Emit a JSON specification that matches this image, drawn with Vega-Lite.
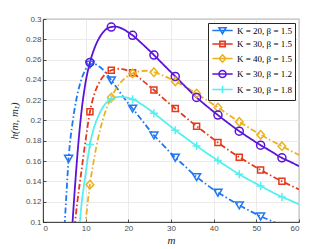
{
  "$schema": "https://vega.github.io/schema/vega-lite/v6.json",
  "width": 256,
  "height": 203,
  "autosize": {"type": "none"},
  "padding": {"left": 43, "top": 19, "right": 32, "bottom": 27},
  "background": "white",
  "config": {
    "view": {"stroke": "#262626", "strokeWidth": 0.8},
    "axis": {
      "labelFont": "Liberation Sans", "labelFontSize": 8, "labelColor": "#4d4d4d",
      "domainColor": "#262626", "domainWidth": 0.8, "tickColor": "#262626", "tickSize": -3, "tickWidth": 0.8,
      "gridColor": "#e6e6e6", "gridWidth": 0.8,
      "titleFont": "Liberation Serif", "titleFontStyle": "italic", "titleFontWeight": "normal", "titleFontSize": 11, "titleColor": "#262626"
    }
  },
  "datasets": {
    "curves": [
      {"s": "K = 20, β = 1.5", "m": 5.05, "h": 0.096},
      {"s": "K = 20, β = 1.5", "m": 5.5, "h": 0.128},
      {"s": "K = 20, β = 1.5", "m": 6, "h": 0.1625},
      {"s": "K = 20, β = 1.5", "m": 7, "h": 0.2},
      {"s": "K = 20, β = 1.5", "m": 8, "h": 0.2245},
      {"s": "K = 20, β = 1.5", "m": 9, "h": 0.2405},
      {"s": "K = 20, β = 1.5", "m": 10, "h": 0.2505},
      {"s": "K = 20, β = 1.5", "m": 11, "h": 0.2553},
      {"s": "K = 20, β = 1.5", "m": 12, "h": 0.2557},
      {"s": "K = 20, β = 1.5", "m": 13, "h": 0.2535},
      {"s": "K = 20, β = 1.5", "m": 14, "h": 0.2503},
      {"s": "K = 20, β = 1.5", "m": 15, "h": 0.2455},
      {"s": "K = 20, β = 1.5", "m": 16, "h": 0.2398},
      {"s": "K = 20, β = 1.5", "m": 17, "h": 0.234},
      {"s": "K = 20, β = 1.5", "m": 18, "h": 0.228},
      {"s": "K = 20, β = 1.5", "m": 19, "h": 0.2222},
      {"s": "K = 20, β = 1.5", "m": 20, "h": 0.2168},
      {"s": "K = 20, β = 1.5", "m": 21, "h": 0.2118},
      {"s": "K = 20, β = 1.5", "m": 23, "h": 0.2012},
      {"s": "K = 20, β = 1.5", "m": 26, "h": 0.1855},
      {"s": "K = 20, β = 1.5", "m": 28, "h": 0.1765},
      {"s": "K = 20, β = 1.5", "m": 31, "h": 0.1635},
      {"s": "K = 20, β = 1.5", "m": 33, "h": 0.156},
      {"s": "K = 20, β = 1.5", "m": 36, "h": 0.1444},
      {"s": "K = 20, β = 1.5", "m": 38, "h": 0.138},
      {"s": "K = 20, β = 1.5", "m": 41, "h": 0.129},
      {"s": "K = 20, β = 1.5", "m": 43, "h": 0.124},
      {"s": "K = 20, β = 1.5", "m": 46, "h": 0.1165},
      {"s": "K = 20, β = 1.5", "m": 48, "h": 0.112},
      {"s": "K = 20, β = 1.5", "m": 51, "h": 0.1056},
      {"s": "K = 20, β = 1.5", "m": 53, "h": 0.102},
      {"s": "K = 20, β = 1.5", "m": 55, "h": 0.0984},

      {"s": "K = 30, β = 1.5", "m": 7.4, "h": 0.095},
      {"s": "K = 30, β = 1.5", "m": 8, "h": 0.118},
      {"s": "K = 30, β = 1.5", "m": 9, "h": 0.15},
      {"s": "K = 30, β = 1.5", "m": 10, "h": 0.181},
      {"s": "K = 30, β = 1.5", "m": 11, "h": 0.2086},
      {"s": "K = 30, β = 1.5", "m": 12, "h": 0.2255},
      {"s": "K = 30, β = 1.5", "m": 13, "h": 0.236},
      {"s": "K = 30, β = 1.5", "m": 14, "h": 0.2428},
      {"s": "K = 30, β = 1.5", "m": 15, "h": 0.247},
      {"s": "K = 30, β = 1.5", "m": 16, "h": 0.2495},
      {"s": "K = 30, β = 1.5", "m": 17, "h": 0.2507},
      {"s": "K = 30, β = 1.5", "m": 18, "h": 0.251},
      {"s": "K = 30, β = 1.5", "m": 19, "h": 0.2503},
      {"s": "K = 30, β = 1.5", "m": 20, "h": 0.249},
      {"s": "K = 30, β = 1.5", "m": 21, "h": 0.247},
      {"s": "K = 30, β = 1.5", "m": 23, "h": 0.2405},
      {"s": "K = 30, β = 1.5", "m": 26, "h": 0.23},
      {"s": "K = 30, β = 1.5", "m": 28, "h": 0.2225},
      {"s": "K = 30, β = 1.5", "m": 31, "h": 0.2118},
      {"s": "K = 30, β = 1.5", "m": 33, "h": 0.2047},
      {"s": "K = 30, β = 1.5", "m": 36, "h": 0.1944},
      {"s": "K = 30, β = 1.5", "m": 38, "h": 0.188},
      {"s": "K = 30, β = 1.5", "m": 41, "h": 0.1783},
      {"s": "K = 30, β = 1.5", "m": 43, "h": 0.1723},
      {"s": "K = 30, β = 1.5", "m": 46, "h": 0.1638},
      {"s": "K = 30, β = 1.5", "m": 48, "h": 0.1587},
      {"s": "K = 30, β = 1.5", "m": 51, "h": 0.1513},
      {"s": "K = 30, β = 1.5", "m": 53, "h": 0.1467},
      {"s": "K = 30, β = 1.5", "m": 56, "h": 0.1401},
      {"s": "K = 30, β = 1.5", "m": 58, "h": 0.136},
      {"s": "K = 30, β = 1.5", "m": 60, "h": 0.1322},

      {"s": "K = 40, β = 1.5", "m": 9.9, "h": 0.095},
      {"s": "K = 40, β = 1.5", "m": 10.5, "h": 0.12},
      {"s": "K = 40, β = 1.5", "m": 11, "h": 0.1368},
      {"s": "K = 40, β = 1.5", "m": 12, "h": 0.163},
      {"s": "K = 40, β = 1.5", "m": 13, "h": 0.184},
      {"s": "K = 40, β = 1.5", "m": 14, "h": 0.2005},
      {"s": "K = 40, β = 1.5", "m": 15, "h": 0.213},
      {"s": "K = 40, β = 1.5", "m": 16, "h": 0.2227},
      {"s": "K = 40, β = 1.5", "m": 17, "h": 0.2305},
      {"s": "K = 40, β = 1.5", "m": 18, "h": 0.2365},
      {"s": "K = 40, β = 1.5", "m": 19, "h": 0.241},
      {"s": "K = 40, β = 1.5", "m": 20, "h": 0.2443},
      {"s": "K = 40, β = 1.5", "m": 21, "h": 0.2464},
      {"s": "K = 40, β = 1.5", "m": 22, "h": 0.2479},
      {"s": "K = 40, β = 1.5", "m": 23, "h": 0.2487},
      {"s": "K = 40, β = 1.5", "m": 24, "h": 0.249},
      {"s": "K = 40, β = 1.5", "m": 25, "h": 0.2486},
      {"s": "K = 40, β = 1.5", "m": 26, "h": 0.2476},
      {"s": "K = 40, β = 1.5", "m": 28, "h": 0.2445},
      {"s": "K = 40, β = 1.5", "m": 31, "h": 0.2385},
      {"s": "K = 40, β = 1.5", "m": 33, "h": 0.234},
      {"s": "K = 40, β = 1.5", "m": 36, "h": 0.2266},
      {"s": "K = 40, β = 1.5", "m": 38, "h": 0.221},
      {"s": "K = 40, β = 1.5", "m": 41, "h": 0.2128},
      {"s": "K = 40, β = 1.5", "m": 43, "h": 0.207},
      {"s": "K = 40, β = 1.5", "m": 46, "h": 0.1987},
      {"s": "K = 40, β = 1.5", "m": 48, "h": 0.1935},
      {"s": "K = 40, β = 1.5", "m": 51, "h": 0.1859},
      {"s": "K = 40, β = 1.5", "m": 53, "h": 0.1813},
      {"s": "K = 40, β = 1.5", "m": 56, "h": 0.1747},
      {"s": "K = 40, β = 1.5", "m": 58, "h": 0.1703},
      {"s": "K = 40, β = 1.5", "m": 60, "h": 0.1661},

      {"s": "K = 30, β = 1.2", "m": 6.85, "h": 0.095},
      {"s": "K = 30, β = 1.2", "m": 7.5, "h": 0.135},
      {"s": "K = 30, β = 1.2", "m": 8, "h": 0.163},
      {"s": "K = 30, β = 1.2", "m": 9, "h": 0.208},
      {"s": "K = 30, β = 1.2", "m": 10, "h": 0.238},
      {"s": "K = 30, β = 1.2", "m": 11, "h": 0.2572},
      {"s": "K = 30, β = 1.2", "m": 12, "h": 0.2705},
      {"s": "K = 30, β = 1.2", "m": 13, "h": 0.28},
      {"s": "K = 30, β = 1.2", "m": 14, "h": 0.2865},
      {"s": "K = 30, β = 1.2", "m": 15, "h": 0.2905},
      {"s": "K = 30, β = 1.2", "m": 16, "h": 0.2921},
      {"s": "K = 30, β = 1.2", "m": 17, "h": 0.2925},
      {"s": "K = 30, β = 1.2", "m": 18, "h": 0.2915},
      {"s": "K = 30, β = 1.2", "m": 19, "h": 0.2895},
      {"s": "K = 30, β = 1.2", "m": 20, "h": 0.2868},
      {"s": "K = 30, β = 1.2", "m": 21, "h": 0.2839},
      {"s": "K = 30, β = 1.2", "m": 23, "h": 0.2765},
      {"s": "K = 30, β = 1.2", "m": 26, "h": 0.2645},
      {"s": "K = 30, β = 1.2", "m": 28, "h": 0.256},
      {"s": "K = 30, β = 1.2", "m": 31, "h": 0.2434},
      {"s": "K = 30, β = 1.2", "m": 33, "h": 0.235},
      {"s": "K = 30, β = 1.2", "m": 36, "h": 0.2227},
      {"s": "K = 30, β = 1.2", "m": 38, "h": 0.2155},
      {"s": "K = 30, β = 1.2", "m": 41, "h": 0.2053},
      {"s": "K = 30, β = 1.2", "m": 43, "h": 0.1988},
      {"s": "K = 30, β = 1.2", "m": 46, "h": 0.1895},
      {"s": "K = 30, β = 1.2", "m": 48, "h": 0.1838},
      {"s": "K = 30, β = 1.2", "m": 51, "h": 0.1757},
      {"s": "K = 30, β = 1.2", "m": 53, "h": 0.1708},
      {"s": "K = 30, β = 1.2", "m": 56, "h": 0.1632},
      {"s": "K = 30, β = 1.2", "m": 58, "h": 0.1592},
      {"s": "K = 30, β = 1.2", "m": 60, "h": 0.155},

      {"s": "K = 30, β = 1.8", "m": 8.55, "h": 0.095},
      {"s": "K = 30, β = 1.8", "m": 9, "h": 0.116},
      {"s": "K = 30, β = 1.8", "m": 9.5, "h": 0.133},
      {"s": "K = 30, β = 1.8", "m": 10, "h": 0.148},
      {"s": "K = 30, β = 1.8", "m": 11, "h": 0.1763},
      {"s": "K = 30, β = 1.8", "m": 12, "h": 0.1935},
      {"s": "K = 30, β = 1.8", "m": 13, "h": 0.2045},
      {"s": "K = 30, β = 1.8", "m": 14, "h": 0.2128},
      {"s": "K = 30, β = 1.8", "m": 15, "h": 0.2182},
      {"s": "K = 30, β = 1.8", "m": 16, "h": 0.2212},
      {"s": "K = 30, β = 1.8", "m": 17, "h": 0.2228},
      {"s": "K = 30, β = 1.8", "m": 18, "h": 0.2233},
      {"s": "K = 30, β = 1.8", "m": 19, "h": 0.223},
      {"s": "K = 30, β = 1.8", "m": 20, "h": 0.2222},
      {"s": "K = 30, β = 1.8", "m": 21, "h": 0.221},
      {"s": "K = 30, β = 1.8", "m": 23, "h": 0.2163},
      {"s": "K = 30, β = 1.8", "m": 26, "h": 0.2072},
      {"s": "K = 30, β = 1.8", "m": 28, "h": 0.2005},
      {"s": "K = 30, β = 1.8", "m": 31, "h": 0.1905},
      {"s": "K = 30, β = 1.8", "m": 33, "h": 0.1842},
      {"s": "K = 30, β = 1.8", "m": 36, "h": 0.175},
      {"s": "K = 30, β = 1.8", "m": 38, "h": 0.169},
      {"s": "K = 30, β = 1.8", "m": 41, "h": 0.1605},
      {"s": "K = 30, β = 1.8", "m": 43, "h": 0.155},
      {"s": "K = 30, β = 1.8", "m": 46, "h": 0.147},
      {"s": "K = 30, β = 1.8", "m": 48, "h": 0.1422},
      {"s": "K = 30, β = 1.8", "m": 51, "h": 0.1355},
      {"s": "K = 30, β = 1.8", "m": 53, "h": 0.131},
      {"s": "K = 30, β = 1.8", "m": 56, "h": 0.1247},
      {"s": "K = 30, β = 1.8", "m": 58, "h": 0.1212},
      {"s": "K = 30, β = 1.8", "m": 60, "h": 0.1174}
    ],
    "markers": [
      {"s": "K = 20, β = 1.5", "m": 6, "h": 0.1625},
      {"s": "K = 20, β = 1.5", "m": 11, "h": 0.2553},
      {"s": "K = 20, β = 1.5", "m": 16, "h": 0.2398},
      {"s": "K = 20, β = 1.5", "m": 21, "h": 0.2118},
      {"s": "K = 20, β = 1.5", "m": 26, "h": 0.1855},
      {"s": "K = 20, β = 1.5", "m": 31, "h": 0.1635},
      {"s": "K = 20, β = 1.5", "m": 36, "h": 0.1444},
      {"s": "K = 20, β = 1.5", "m": 41, "h": 0.129},
      {"s": "K = 20, β = 1.5", "m": 46, "h": 0.1165},
      {"s": "K = 20, β = 1.5", "m": 51, "h": 0.1056},
      {"s": "K = 30, β = 1.5", "m": 11, "h": 0.2086},
      {"s": "K = 30, β = 1.5", "m": 16, "h": 0.2495},
      {"s": "K = 30, β = 1.5", "m": 21, "h": 0.247},
      {"s": "K = 30, β = 1.5", "m": 26, "h": 0.23},
      {"s": "K = 30, β = 1.5", "m": 31, "h": 0.2118},
      {"s": "K = 30, β = 1.5", "m": 36, "h": 0.1944},
      {"s": "K = 30, β = 1.5", "m": 41, "h": 0.1783},
      {"s": "K = 30, β = 1.5", "m": 46, "h": 0.1638},
      {"s": "K = 30, β = 1.5", "m": 51, "h": 0.1513},
      {"s": "K = 30, β = 1.5", "m": 56, "h": 0.1401},
      {"s": "K = 40, β = 1.5", "m": 11, "h": 0.1368},
      {"s": "K = 40, β = 1.5", "m": 16, "h": 0.2227},
      {"s": "K = 40, β = 1.5", "m": 21, "h": 0.2464},
      {"s": "K = 40, β = 1.5", "m": 26, "h": 0.2476},
      {"s": "K = 40, β = 1.5", "m": 31, "h": 0.2385},
      {"s": "K = 40, β = 1.5", "m": 36, "h": 0.2266},
      {"s": "K = 40, β = 1.5", "m": 41, "h": 0.2128},
      {"s": "K = 40, β = 1.5", "m": 46, "h": 0.1987},
      {"s": "K = 40, β = 1.5", "m": 51, "h": 0.1859},
      {"s": "K = 40, β = 1.5", "m": 56, "h": 0.1747},
      {"s": "K = 30, β = 1.2", "m": 11, "h": 0.2572},
      {"s": "K = 30, β = 1.2", "m": 16, "h": 0.2921},
      {"s": "K = 30, β = 1.2", "m": 21, "h": 0.2839},
      {"s": "K = 30, β = 1.2", "m": 26, "h": 0.2645},
      {"s": "K = 30, β = 1.2", "m": 31, "h": 0.2434},
      {"s": "K = 30, β = 1.2", "m": 36, "h": 0.2227},
      {"s": "K = 30, β = 1.2", "m": 41, "h": 0.2053},
      {"s": "K = 30, β = 1.2", "m": 46, "h": 0.1895},
      {"s": "K = 30, β = 1.2", "m": 51, "h": 0.1757},
      {"s": "K = 30, β = 1.2", "m": 56, "h": 0.1632},
      {"s": "K = 30, β = 1.8", "m": 11, "h": 0.1763},
      {"s": "K = 30, β = 1.8", "m": 16, "h": 0.2212},
      {"s": "K = 30, β = 1.8", "m": 21, "h": 0.221},
      {"s": "K = 30, β = 1.8", "m": 26, "h": 0.2072},
      {"s": "K = 30, β = 1.8", "m": 31, "h": 0.1905},
      {"s": "K = 30, β = 1.8", "m": 36, "h": 0.175},
      {"s": "K = 30, β = 1.8", "m": 41, "h": 0.1605},
      {"s": "K = 30, β = 1.8", "m": 46, "h": 0.147},
      {"s": "K = 30, β = 1.8", "m": 51, "h": 0.1355},
      {"s": "K = 30, β = 1.8", "m": 56, "h": 0.1247}
    ]
  },
  "encoding": {
    "x": {"field": "m", "type": "quantitative",
      "scale": {"domain": [0, 60], "nice": false, "zero": false},
      "axis": {"title": "m", "values": [0, 10, 20, 30, 40, 50, 60], "labelPadding": 5, "titlePadding": 2, "grid": true}},
    "y": {"field": "h", "type": "quantitative",
      "scale": {"domain": [0.1, 0.3], "nice": false, "zero": false},
      "axis": {"title": "h(m, mₜ)", "values": [0.1, 0.12, 0.14, 0.16, 0.18, 0.2, 0.22, 0.24, 0.26, 0.28, 0.3], "format": ".2~f", "labelPadding": 5, "titlePadding": 6, "grid": true}},
    "color": {"field": "s", "type": "nominal",
      "scale": {"domain": ["K = 20, β = 1.5", "K = 30, β = 1.5", "K = 40, β = 1.5", "K = 30, β = 1.2", "K = 30, β = 1.8"],
                "range": ["#1f78f2", "#e5391c", "#edb120", "#5a14d9", "#55eff0"]},
      "legend": {
        "title": null, "orient": "top-right", "offset": 4,
        "padding": 3, "strokeColor": "#262626", "fillColor": "white", "cornerRadius": 0,
        "labelFont": "Liberation Serif", "labelFontSize": 9, "labelColor": "#000000",
        "symbolSize": 49, "symbolStrokeWidth": 1.6, "symbolFillColor": "transparent", "symbolType": "M-2.9,0H2.9M0,-1V1",
        "symbolOffset": 7, "labelOffset": 10, "rowPadding": 0.5,
        "encode": {"symbols": {"update": {"shape": {"signal": "datum.value === 'K = 20, β = 1.5' ? 'M-2.9,0H2.9M-1,-0.8L1,-0.8L0,0.9Z' : datum.value === 'K = 30, β = 1.5' ? 'M-2.9,0H2.9M-0.75,-0.75H0.75V0.75H-0.75Z' : datum.value === 'K = 40, β = 1.5' ? 'M-2.9,0H2.9M0,-1.05L0.95,0L0,1.05L-0.95,0Z' : datum.value === 'K = 30, β = 1.2' ? 'M-2.9,0H2.9M-1,0A1,1,0,1,1,1,0A1,1,0,1,1,-1,0Z' : 'M-2.9,0H2.9M0,-1V1'"}, "fill": {"value": "transparent"}}}}
      }
    }
  },
  "layer": [
    {
      "data": {"name": "curves"},
      "mark": {"type": "line", "clip": true, "strokeWidth": 1.8, "interpolate": "monotone"},
      "encoding": {
        "strokeDash": {
          "condition": {"test": "datum.s === 'K = 30, β = 1.2' || datum.s === 'K = 30, β = 1.8'", "value": [1, 0]},
          "value": [6, 2.5, 1.5, 2.5]
        }
      }
    },
    {
      "data": {"name": "markers"},
      "mark": {"type": "point", "filled": false, "strokeWidth": 1.5, "size": 64, "opacity": 1, "clip": true},
      "encoding": {
        "shape": {
          "condition": [
            {"test": "datum.s === 'K = 20, β = 1.5'", "value": "M-1,-0.8L1,-0.8L0,0.9Z"},
            {"test": "datum.s === 'K = 30, β = 1.5'", "value": "M-0.75,-0.75H0.75V0.75H-0.75Z"},
            {"test": "datum.s === 'K = 40, β = 1.5'", "value": "M0,-1.05L0.95,0L0,1.05L-0.95,0Z"},
            {"test": "datum.s === 'K = 30, β = 1.2'", "value": "M-1,0A1,1,0,1,1,1,0A1,1,0,1,1,-1,0Z"}
          ],
          "value": "M-1,0H1M0,-1V1"
        }
      }
    }
  ]
}
